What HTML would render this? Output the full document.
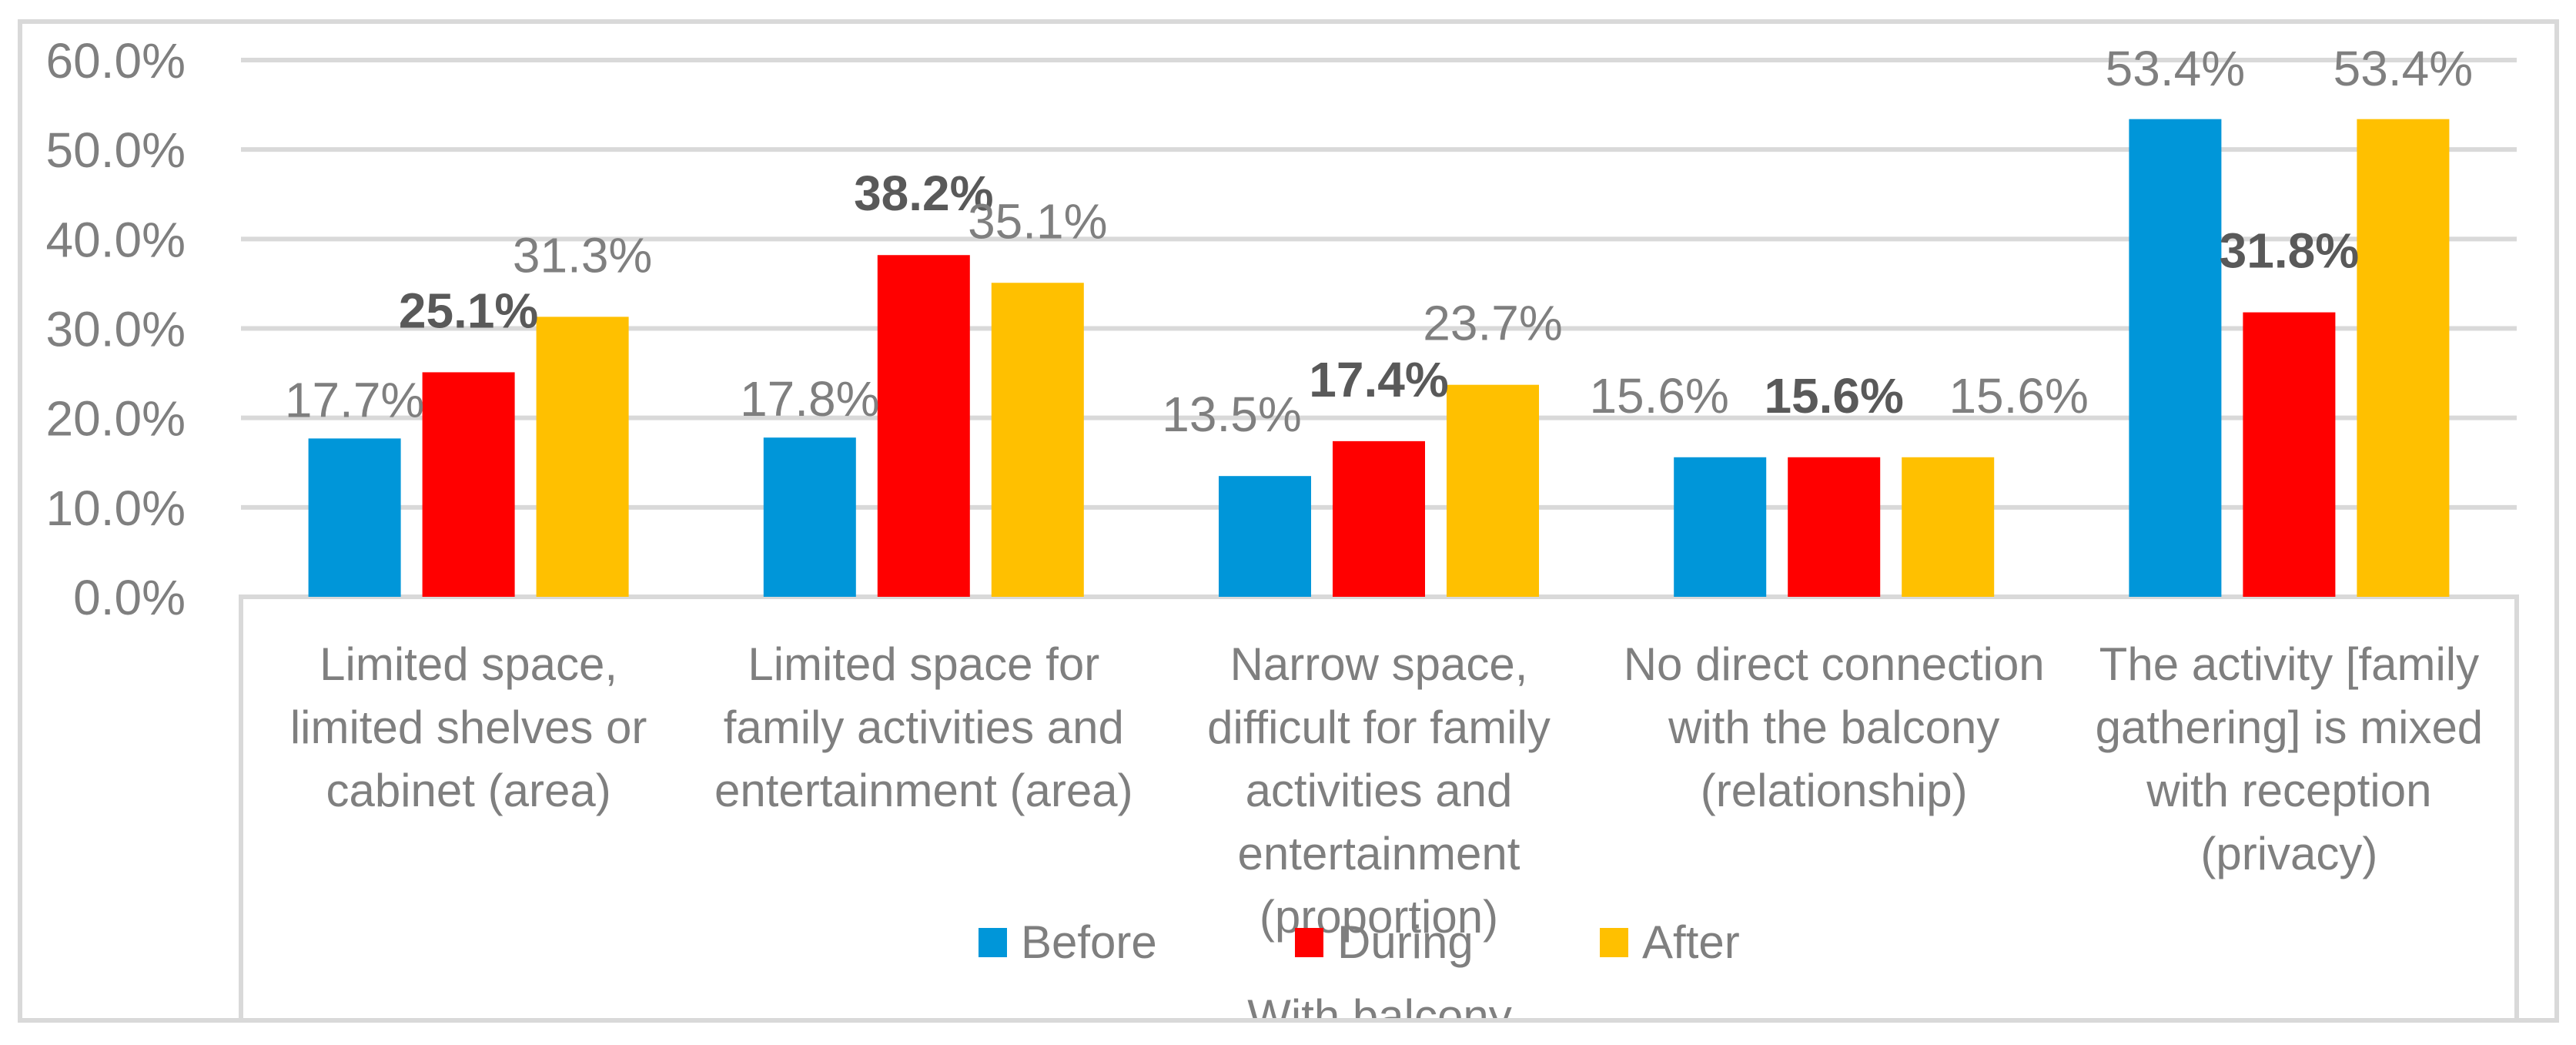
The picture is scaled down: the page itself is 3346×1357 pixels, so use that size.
<!DOCTYPE html>
<html><head><meta charset="utf-8"><style>
html,body{margin:0;padding:0;background:#fff;}
svg{display:block;font-family:"Liberation Sans",sans-serif;}
</style></head><body>
<svg id="chart" width="3346" height="1357" viewBox="0 0 3346 1357" xmlns="http://www.w3.org/2000/svg">
<rect x="26" y="28" width="3295" height="1297" fill="#fff" stroke="#d9d9d9" stroke-width="6"/>
<g id="grid"></g><g id="bars"></g><g id="labels"></g><g id="cats"></g><g id="legend"></g>
</svg>
<script>
const categories = [
 ["Limited space,","limited shelves or","cabinet (area)"],
 ["Limited space for","family activities and","entertainment (area)"],
 ["Narrow space,","difficult for family","activities and","entertainment","(proportion)"],
 ["No direct connection","with the balcony","(relationship)"],
 ["The activity [family","gathering] is mixed","with reception","(privacy)"]
];
const seriesNames = ["Before","During","After"];
const beforeVals = [17.7,17.8,13.5,15.6,53.4];
const duringVals = [25.1,38.2,17.4,15.6,31.8];
const afterVals = [31.3,35.1,23.7,15.6,53.4];
const yTicks = [0,10,20,30,40,50,60];

const NS="http://www.w3.org/2000/svg";
const colors=["#0096d9","#ff0000","#ffc000"];
// manual label nudges (style, px) per series per group
const labelNudge=[[0,0,-43,-79,0],[0,0,0,0,0],[0,0,0,92,0]];
const labelNudgeY=[[30,30,0,0,0],[0,0,0,0,0],[0,0,0,0,0]];
const plotL=313, plotR=3269, y0=775, y60=78;
const yScale=v=>y0-(v/60)*(y0-y60);
const groupW=(plotR-plotL)/categories.length;
const barW=120, step=148;
const xCenter=i=>plotL+groupW*(i+0.5);
function mk(tag,attrs,parent,text){const e=document.createElementNS(NS,tag);for(const k in attrs)e.setAttribute(k,attrs[k]);if(text!==undefined)e.textContent=text;parent.appendChild(e);return e;}
const grid=document.getElementById('grid');
yTicks.forEach(t=>{
 if(t>0){const l=mk('line',{x1:plotL,x2:plotR,y1:yScale(t),y2:yScale(t),stroke:'#d9d9d9','stroke-width':6},grid);
 
 }
 const tx=mk('text',{x:241,y:yScale(t)+23,'text-anchor':'end','font-size':64,fill:'#7f7f7f'},grid,t.toFixed(1)+'%');
 
 
});
const box=mk('path',{d:`M${plotL},1325 L${plotL},${y0} L${plotR},${y0} L${plotR},1325`,fill:'none',stroke:'#d9d9d9','stroke-width':6},grid);


const bars=document.getElementById('bars'), labels=document.getElementById('labels');
const all=[beforeVals,duringVals,afterVals];
all.forEach((vals,s)=>{
 vals.forEach((v,i)=>{
  const cx=xCenter(i)+(s-1)*step;
  const r=mk('rect',{x:cx-barW/2,y:yScale(v),width:barW,height:y0-yScale(v),fill:colors[s]},bars);
  
  
  const ly=Math.max(111,yScale(v)-58)+labelNudgeY[s][i];
  const t=mk('text',{x:cx+labelNudge[s][i],y:ly,'text-anchor':'middle','font-size':64,fill:s===1?'#595959':'#7f7f7f','font-weight':s===1?'bold':'normal'},labels,v.toFixed(1)+'%');
  
  
 });
});
const cats=document.getElementById('cats');
categories.forEach((lines,i)=>{
 lines.forEach((ln,j)=>{
  const t=mk('text',{x:xCenter(i),y:883+j*82,'text-anchor':'middle','font-size':60,fill:'#7f7f7f'},cats,ln);
  
  
 });
});
const leg=document.getElementById('legend');
const legX=[1271,1682,2078];
seriesNames.forEach((n,s)=>{
 const r=mk('rect',{x:legX[s],y:1205,width:37,height:38,fill:colors[s]},leg);
 
 
 const t=mk('text',{x:legX[s]+55,y:1244,'font-size':60,fill:'#7f7f7f'},leg,n);
 
 
});
mk('clipPath',{id:'clipb'},leg);
mk('rect',{x:0,y:0,width:3346,height:1322},document.getElementById('clipb'));
const ax=mk('text',{x:1792,y:1340,'text-anchor':'middle','font-size':60,fill:'#7f7f7f','clip-path':'url(#clipb)'},leg,'With balcony');


</script>
</body></html>
